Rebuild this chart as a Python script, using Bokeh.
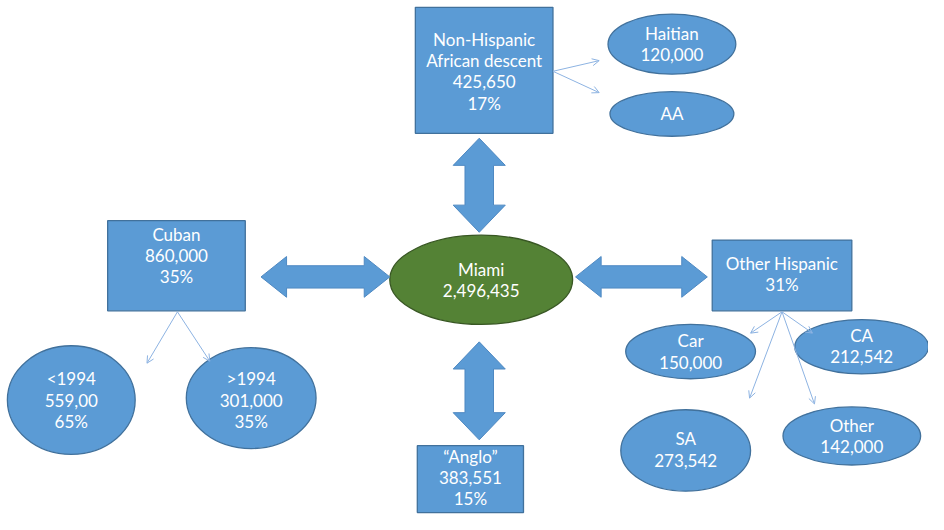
import numpy as np
from bokeh.plotting import figure
from bokeh.models import Range1d, Arrow, OpenHead
from bokeh.core.properties import value
from bokeh.embed import file_html
from bokeh.resources import INLINE

# ---- content ----
box_lines = [
    ["Non-Hispanic", "African descent", "425,650", "17%"],
    ["Cuban", "860,000", "35%"],
    ["Other Hispanic", "31%"],
    ["\u201cAnglo\u201d", "383,551", "15%"],
]
ellipse_lines = [
    ["Haitian", "120,000"],
    ["AA"],
    ["Miami", "2,496,435"],
    ["Car", "150,000"],
    ["CA", "212,542"],
    ["SA", "273,542"],
    ["Other", "142,000"],
    ["<1994", "559,00", "65%"],
    [">1994", "301,000", "35%"],
]

# ---- layout (pixel positions) ----
box_left = [422, 109, 724, 424]
box_right = [562, 249, 866, 532]
box_top = [7, 227, 247, 459]
box_bottom = [137, 320, 320, 528]
box_text_y0 = [40, 241, 271, 470]

ell_x = [683, 683, 489, 702, 876, 697, 866, 72, 255]
ell_y = [45, 117, 288, 362, 357, 464, 449, 412, 410]
ell_w = [130, 126, 186, 132, 136, 132, 140, 130, 132]
ell_h = [62, 46, 92, 56, 56, 84, 60, 112, 104]
ell_text_y0 = [34, 117, 277, 351, 345, 452, 438, 390, 390]
ell_fill = ["#5B9BD5"] * 9
ell_fill[2] = "#548235"
ell_line = ["#41719C"] * 9
ell_line[2] = "#385723"

# block arrows: (x0, y0, x1, y1, shaft width, head width, head length)
block_arrows = [
    (487, 142, 487, 239, 29, 53, 28),
    (265, 285, 396, 285, 23, 42, 26),
    (585, 285, 719, 285, 23, 42, 26),
    (487, 352, 487, 453, 29, 53, 28),
]

# thin connectors: (x0, y0, x1, y1)
connectors = [
    (562, 73, 609, 62),
    (562, 73, 609, 95),
    (180, 321, 149, 374),
    (180, 321, 213, 372),
    (795, 321, 763, 343),
    (795, 321, 826, 343),
    (795, 321, 762, 410),
    (795, 321, 828, 416),
]

LINE_H = 22
FONT = "Lato"
FSIZE = "17px"

p = figure(width=928, height=514, output_backend="svg", toolbar_location=None,
           x_range=Range1d(0, 944), y_range=Range1d(530, 0),
           min_border=0, outline_line_color=None)
p.axis.visible = False
p.grid.visible = False
p.background_fill_color = "white"

# rectangles
p.quad(left=box_left, right=box_right, top=box_top, bottom=box_bottom,
       fill_color="#5B9BD5", line_color="#41719C", line_width=1.3)

# ellipses
p.ellipse(x=ell_x, y=ell_y, width=ell_w, height=ell_h,
          fill_color=ell_fill, line_color=ell_line, line_width=1.3)

# block double arrows
def block_arrow(x0, y0, x1, y1, sw, hw, hl):
    d = np.array([x1 - x0, y1 - y0], dtype=float)
    L = np.hypot(*d)
    u = d / L
    n = np.array([-u[1], u[0]])
    pts_local = [
        (0, 0), (hl, hw / 2), (hl, sw / 2),
        (L - hl, sw / 2), (L - hl, hw / 2), (L, 0),
        (L - hl, -hw / 2), (L - hl, -sw / 2),
        (hl, -sw / 2), (hl, -hw / 2),
    ]
    xs = [x0 + a * u[0] + b * n[0] for a, b in pts_local]
    ys = [y0 + a * u[1] + b * n[1] for a, b in pts_local]
    return xs, ys

bx, by = [], []
for a in block_arrows:
    xs, ys = block_arrow(*a)
    bx.append(xs)
    by.append(ys)
p.patches(bx, by, fill_color="#5B9BD5", line_color="#4F89C2", line_width=1)

# thin connectors
for (x0, y0, x1, y1) in connectors:
    p.add_layout(Arrow(x_start=x0, y_start=y0, x_end=x1, y_end=y1,
                       line_color="#8DB3E2", line_width=1,
                       end=OpenHead(size=7, line_color="#8DB3E2", line_width=1)))

# texts
tx, ty, tt = [], [], []
for lines, l, r, y0 in zip(box_lines, box_left, box_right, box_text_y0):
    for i, s in enumerate(lines):
        tx.append((l + r) / 2)
        ty.append(y0 + i * LINE_H)
        tt.append(s)
for lines, x, y0 in zip(ellipse_lines, ell_x, ell_text_y0):
    for i, s in enumerate(lines):
        tx.append(x)
        ty.append(y0 + i * LINE_H)
        tt.append(s)
p.text(x=tx, y=ty, text=tt, text_align="center", text_baseline="middle",
       text_color="white", text_font=value(FONT), text_font_size=FSIZE)

open("out.html", "w").write(file_html(p, INLINE))
